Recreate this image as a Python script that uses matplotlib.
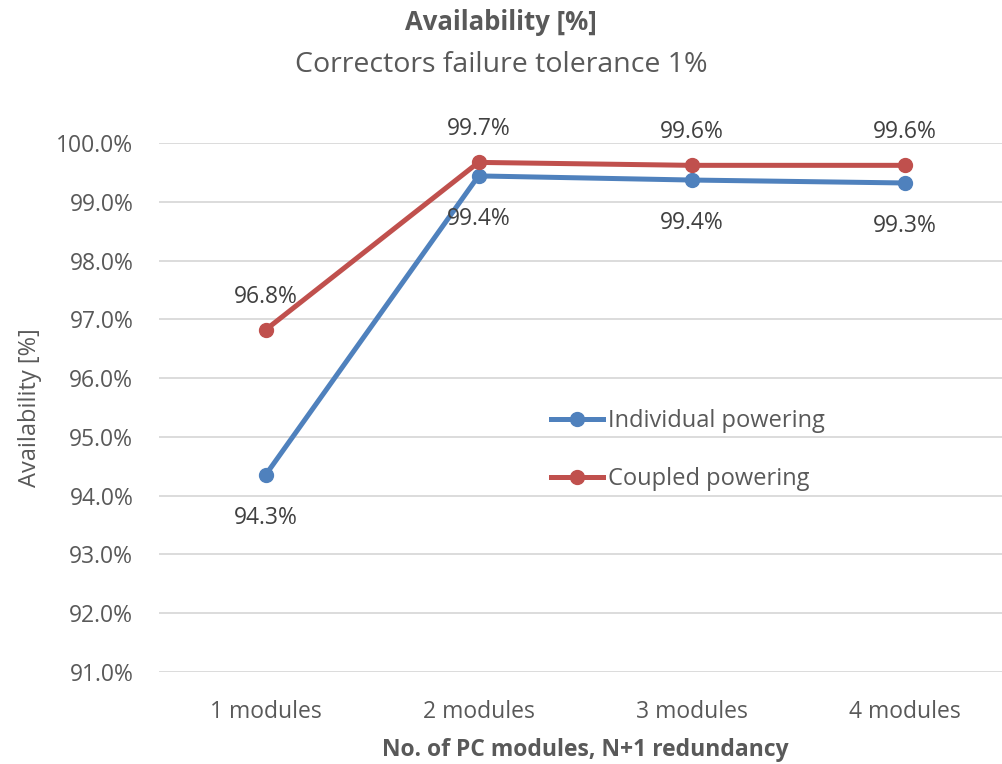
import matplotlib.pyplot as plt
from matplotlib.ticker import PercentFormatter, FixedLocator

plt.rcParams['font.family'] = ['Open Sans', 'DejaVu Sans']

categories = ['1 modules', '2 modules', '3 modules', '4 modules']
individual = [0.9435, 0.9944, 0.9937, 0.9932]
coupled = [0.9682, 0.9967, 0.9962, 0.9962]
yticks = [0.91, 0.92, 0.93, 0.94, 0.95, 0.96, 0.97, 0.98, 0.99, 1.00]

grey = '#595959'
blue = '#4F81BD'
red = '#C0504D'

fig = plt.figure(figsize=(10.02, 7.64), dpi=100)
ax = fig.add_axes([159 / 1002, 92 / 764, 852 / 1002, 529 / 764])

x = range(len(categories))
ax.plot(x, individual, color=blue, lw=3.6, marker='o', ms=10,
        label='Individual powering', clip_on=False, zorder=3)
ax.plot(x, coupled, color=red, lw=3.6, marker='o', ms=10,
        label='Coupled powering', clip_on=False, zorder=4)

# value labels: red above, blue below
for i in x:
    ax.annotate(f'{coupled[i]:.1%}', (i, coupled[i]), xytext=(0, 24),
                textcoords='offset points', ha='center', va='center',
                fontsize=16.5, color='#404040')
    ax.annotate(f'{individual[i]:.1%}', (i, individual[i]), xytext=(0, -31),
                textcoords='offset points', ha='center', va='center',
                fontsize=16.5, color='#404040')

ax.set_xlim(-0.5, 3.5)
ax.set_ylim(0.91, 1.0)
ax.yaxis.set_major_locator(FixedLocator(yticks))
ax.yaxis.set_major_formatter(PercentFormatter(1.0, decimals=1))
ax.set_xticks(list(x))
ax.set_xticklabels(categories)
ax.grid(axis='y', color='#D9D9D9', lw=1.3)
ax.set_axisbelow(True)
for s in ax.spines.values():
    s.set_visible(False)
ax.tick_params(length=0, labelsize=16.5, colors=grey)
ax.tick_params(axis='x', pad=20)
ax.tick_params(axis='y', pad=18.5)

ax.set_ylabel('Availability [%]', fontsize=17, color=grey, labelpad=10)
ax.set_xlabel('No. of PC modules, N+1 redundancy', fontsize=16.5,
              fontweight='bold', color=grey, labelpad=10)

fig.text(0.5, 1 - 22 / 764, 'Availability [%]', ha='center', va='center',
         fontsize=18.5, fontweight='bold', color=grey)
fig.text(0.5, 1 - 65 / 764, 'Correctors failure tolerance 1%', ha='center',
         va='center', fontsize=20.5, color=grey)

ax.legend(loc='upper left', bbox_to_anchor=(0.435, 0.537), frameon=False,
          fontsize=17, labelcolor=grey, handlelength=2.2,
          handletextpad=0.2, labelspacing=1.45)

fig.savefig('out.png', dpi=100)
